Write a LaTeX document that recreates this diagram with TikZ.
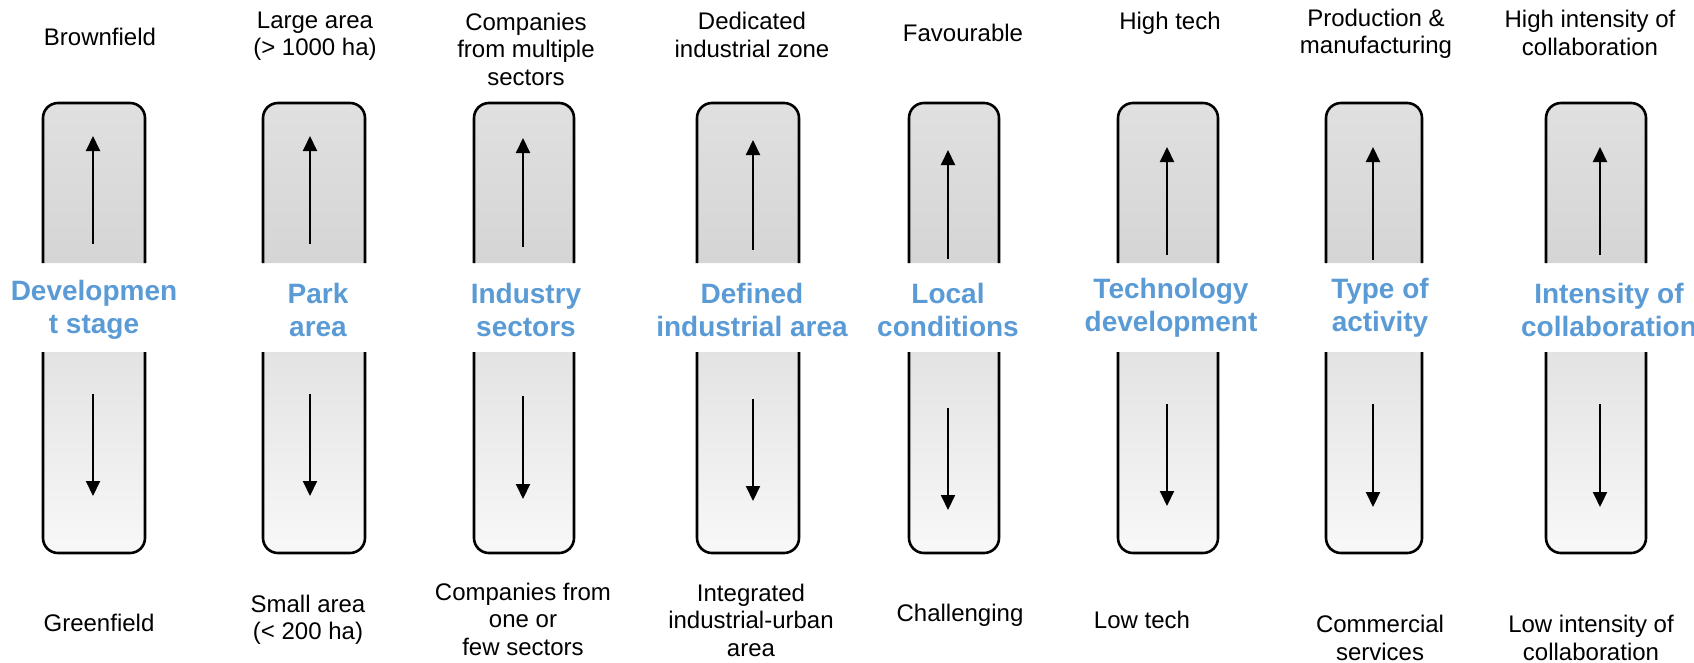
\documentclass[tikz,border=0pt]{standalone}
\usepackage{fontspec}
\setmainfont{Liberation Sans}
\usetikzlibrary{arrows.meta}
\definecolor{labelblue}{HTML}{5B9BD5}
\definecolor{upperTop}{HTML}{E0E0E0}
\definecolor{upperBot}{HTML}{D5D5D5}
\definecolor{lowerTop}{HTML}{E3E3E3}
\definecolor{lowerBot}{HTML}{F8F8F8}

\begin{document}
\begin{tikzpicture}[x=1pt,y=-1pt,>={Triangle[width=14pt,length=15pt]},
  every node/.style={align=center,inner sep=0pt},
  endlabel/.style={font=\fontsize{24}{27.5}\selectfont},
  dimlabel/.style={font=\bfseries\fontsize{28}{32.5}\selectfont,text=labelblue}]
\useasboundingbox (0,0) rectangle (1694,662);

\tikzset{upbox/.style={line width=2.6pt,rounded corners=15pt,top color=upperTop,bottom color=upperBot}}
\tikzset{downbox/.style={line width=2.6pt,rounded corners=15pt,top color=lowerTop,bottom color=lowerBot}}
\tikzset{pole/.style={->,line width=2pt}}

% boxes with their two arrows
\foreach \i/\x/\w/\ax/\ua/\ub/\da/\db in {1/94/51/93/244/136/394/496,
    2/314/51/310/244/136/394/496, 3/524/50/523/247/138/396/499,
    4/748/51/753/250/140/399/501, 5/954/45/948/259/150/408/510,
    6/1168/50/1167/255/147/404/506, 7/1374/48/1373/260/147/404/507,
    8/1596/50/1600/255/147/404/507}{
  \draw[upbox] (\x-\w,263) -- (\x-\w,103) -- (\x+\w,103) -- (\x+\w,263);
  \draw[downbox] (\x-\w,352) -- (\x-\w,553) -- (\x+\w,553) -- (\x+\w,352);
  \coordinate (up\i) at (\ax,\ua);
  \coordinate (hi\i) at (\ax,\ub);
  \coordinate (dn\i) at (\ax,\da);
  \coordinate (lo\i) at (\ax,\db);
  \draw[pole] (up\i) -- (hi\i);
  \draw[pole] (dn\i) -- (lo\i);
}

% upper ends
\node[endlabel] (brown) at (100,37) {Brownfield};
\node[endlabel] (large) at (315,36) {Large area\\(> 1000 ha)};
\node[endlabel] (multi) at (526,49) {Companies\\from multiple\\sectors};
\node[endlabel] (zone) at (752,35) {Dedicated\\industrial zone};
\node[endlabel] (favour) at (963,33) {Favourable};
\node[endlabel] (hitech) at (1170,23) {High tech};
\node[endlabel] (prod) at (1376,34) {Production \&\\manufacturing};
\node[endlabel] (hicoll) at (1590,33) {High intensity of\\collaboration};

% dimensions
\node[dimlabel] (stage) at (94,310) {Developmen\\t stage};
\node[dimlabel] (park) at (318,310) {Park\\area};
\node[dimlabel] (sector) at (526,310) {Industry\\sectors};
\node[dimlabel] (defined) at (752,310) {Defined\\industrial area};
\node[dimlabel] (local) at (948,310) {Local\\conditions};
\node[dimlabel] (techdev) at (1171,308) {Technology\\development};
\node[dimlabel] (activity) at (1380,308) {Type of\\activity};
\node[dimlabel] (intens) at (1609,310) {Intensity of\\collaboration};

% lower ends
\node[endlabel] (green) at (99,623) {Greenfield};
\node[endlabel] (small) at (308,620) {Small area\\(< 200 ha)};
\node[endlabel] (few) at (523,619) {Companies from\\one or\\few sectors};
\node[endlabel] (urban) at (751,620) {Integrated\\industrial-urban\\area};
\node[endlabel] (challenge) at (960,615) {Challenging};
\node[endlabel] (lotech) at (1142,620) {Low tech};
\node[endlabel] (commerce) at (1380,638) {Commercial\\services};
\node[endlabel] (locoll) at (1591,638) {Low intensity of\\collaboration};
\end{tikzpicture}
\end{document}
